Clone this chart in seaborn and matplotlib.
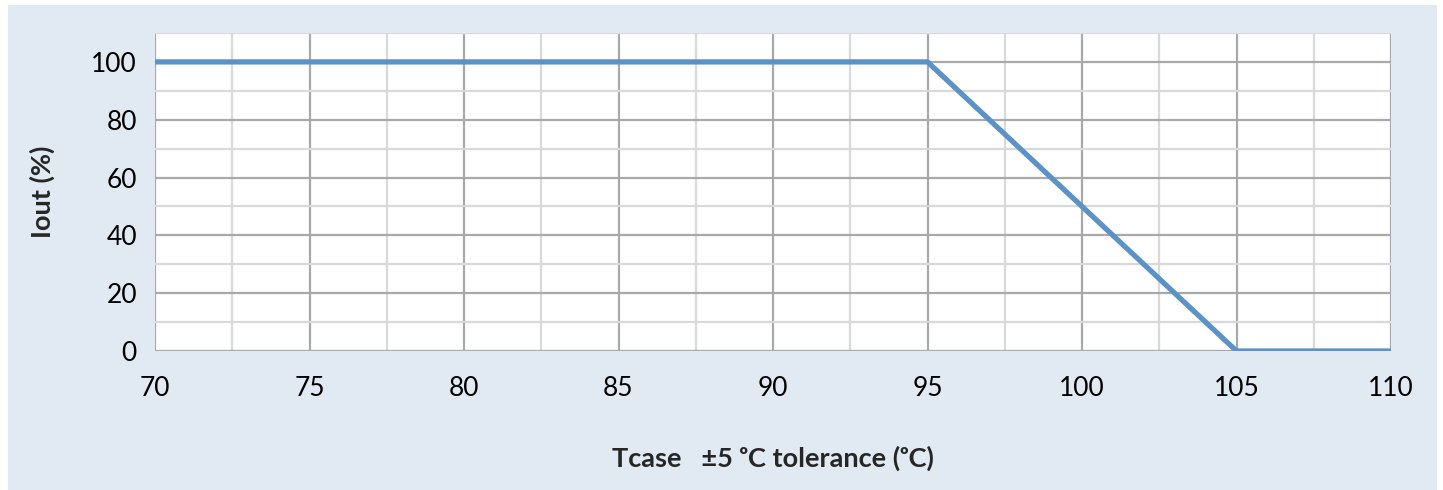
import matplotlib
matplotlib.use("Agg")
import matplotlib.pyplot as plt
from matplotlib.patches import Rectangle
from matplotlib.ticker import MultipleLocator
import seaborn as sns
import pandas as pd

# Derating curve: output current vs case temperature
tcase = [70, 95, 105, 110]
iout = [100, 100, 0, 0]
x_ticks = [70, 75, 80, 85, 90, 95, 100, 105, 110]
y_ticks = [0, 20, 40, 60, 80, 100]

sns.set_style("white")
plt.rcParams["font.family"] = ["Lato", "DejaVu Sans"]

fig = plt.figure(figsize=(14.43, 4.90), dpi=100, facecolor="white")
fig.patches.append(Rectangle((8 / 1443, 0), 1429 / 1443, 485 / 490,
                             transform=fig.transFigure, facecolor="#E1E9F3",
                             edgecolor="none", zorder=-10))

ax = fig.add_axes([155 / 1443, 1 - 351 / 490, 1236 / 1443, 318 / 490])
ax.set_zorder(1)
ax.set_facecolor("white")

df = pd.DataFrame({"Tcase": tcase, "Iout": iout})
sns.lineplot(data=df, x="Tcase", y="Iout", ax=ax, color="#5B93C8",
             linewidth=3.8, zorder=5, solid_joinstyle="miter")

ax.set_xlim(70, 110)
ax.set_ylim(0, 110)
ax.set_xticks(x_ticks)
ax.set_yticks(y_ticks)
ax.xaxis.set_minor_locator(MultipleLocator(2.5))
ax.yaxis.set_minor_locator(MultipleLocator(10))
ax.grid(which="major", color="#A9A9A9", linewidth=1.6, zorder=1)
ax.grid(which="minor", color="#D9D9D9", linewidth=1.6, zorder=1)
ax.set_axisbelow(True)

for name, sp in ax.spines.items():
    sp.set_visible(False)

ax.tick_params(axis="both", which="major", direction="out", length=6,
               width=1.6, color="#A9A9A9", labelsize=19, labelcolor="black")
ax.tick_params(axis="both", which="minor", length=0)
ax.tick_params(axis="y", pad=7)
ax.tick_params(axis="x", pad=12)

ax.set_xlabel("Tcase   \u00b15 \u1d52C tolerance (\u1d52C)", fontsize=19.5,
              fontweight="bold", labelpad=32)
ax.set_ylabel("Iout (%)", fontsize=19.5, fontweight="bold", labelpad=26)

fig.savefig("out.png", dpi=100, facecolor="white")
